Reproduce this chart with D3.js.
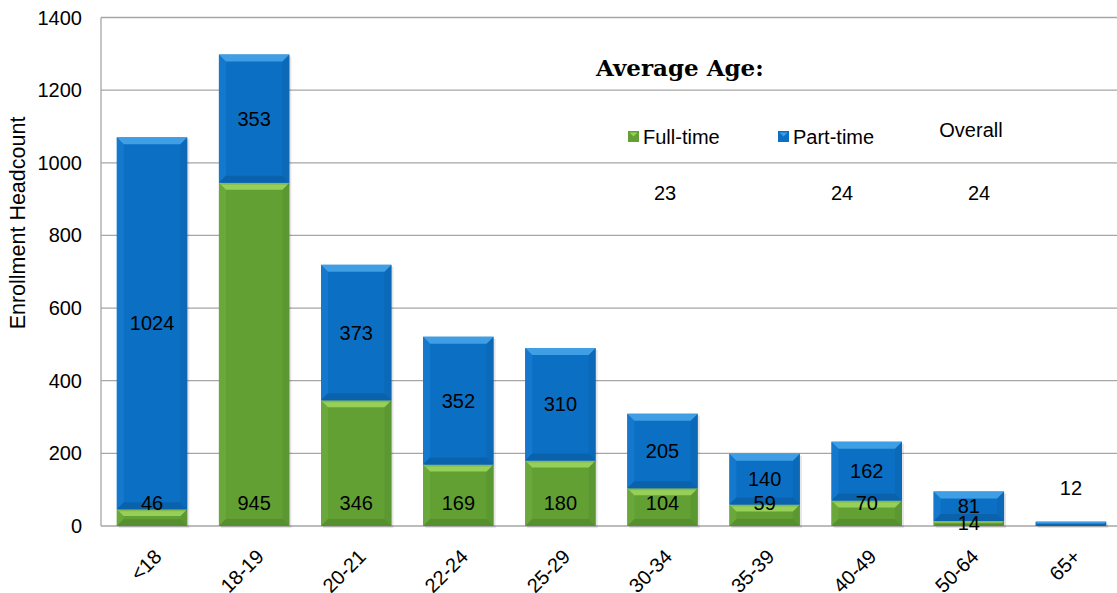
<!DOCTYPE html>
<html>
<head>
<meta charset="utf-8">
<script src="https://cdn.jsdelivr.net/npm/d3@7"></script>
<style>
  body { margin: 0; background: #fff; }
  svg { font-family: "Liberation Sans", Arial, sans-serif; }
</style>
</head>
<body>
<svg width="1117" height="593"></svg>
<script>
var svg = d3.select("svg"),
  width = +svg.attr("width"),
  height = +svg.attr("height");

// data
var ageGroups = ["<18", "18-19", "20-21", "22-24", "25-29", "30-34", "35-39", "40-49", "50-64", "65+"];
var fullTime = [46, 945, 346, 169, 180, 104, 59, 70, 14, 0];
var partTime = [1024, 353, 373, 352, 310, 205, 140, 162, 81, 12];
var yTicks = [0, 200, 400, 600, 800, 1000, 1200, 1400];
var avgAgeLabels = ["Full-time", "Part-time", "Overall"];
var avgAgeValues = [23, 24, 24];

var margin = {top: 17.5, left: 101};
var plotW = 1021,   // plot runs a little past the right edge, as in the original
  plotH = 526 - margin.top;

var x = d3.scaleBand().domain(ageGroups).range([0, plotW]).paddingInner(0.31).paddingOuter(0.155);
var y = d3.scaleLinear().domain([0, 1400]).range([plotH, 0]);

var g = svg.append("g").attr("transform", "translate(" + margin.left + "," + margin.top + ")");

// gridlines
g.selectAll("line.grid")
  .data(yTicks)
  .enter().append("line")
  .attr("class", "grid")
  .attr("x1", 0).attr("x2", plotW)
  .attr("y1", d => y(d)).attr("y2", d => y(d))
  .attr("stroke", "#a6a6a6").attr("stroke-width", 1.3);

g.append("line")
  .attr("x1", 0).attr("x2", 0).attr("y1", 0).attr("y2", plotH)
  .attr("stroke", "#a6a6a6").attr("stroke-width", 1.3);

g.selectAll("text.ytick")
  .data(yTicks)
  .enter().append("text")
  .attr("class", "ytick")
  .attr("x", -19).attr("y", d => y(d))
  .attr("dy", "0.35em")
  .attr("text-anchor", "end")
  .attr("font-size", 20).attr("fill", "#000")
  .text(d => d);

svg.append("text")
  .attr("transform", "translate(25,223) rotate(-90)")
  .attr("text-anchor", "middle")
  .attr("font-size", 21.5)
  .text("Enrollment Headcount");

// colours
var palettes = {
  ft: {main: "#62a034", light: "#96d058", dark: "#568f2e", side: "#6aa83b"},
  pt: {main: "#0b70c4", light: "#3f9ee4", dark: "#0b62ac", side: "#1479cc"}
};

var stack = ageGroups.map(function(c, i) {
  return {cat: c, ft: fullTime[i], pt: partTime[i]};
});

function drawSegment(sel, x0, w, y0, y1, p) {
  var h = y0 - y1;
  if (h <= 0) return;
  var b = Math.min(7, h / 2.5);
  sel.append("rect").attr("x", x0 + 2).attr("y", y1 + 2).attr("width", w).attr("height", h)
    .attr("fill", "#000").attr("opacity", 0.1);
  sel.append("rect").attr("x", x0).attr("y", y1).attr("width", w).attr("height", h).attr("fill", p.main);
  // sides
  sel.append("polygon").attr("points", [[x0, y1], [x0 + b, y1 + b], [x0 + b, y0 - b], [x0, y0]].join(" "))
    .attr("fill", p.side);
  sel.append("polygon").attr("points", [[x0 + w, y1], [x0 + w - b, y1 + b], [x0 + w - b, y0 - b], [x0 + w, y0]].join(" "))
    .attr("fill", p.dark).attr("opacity", 0.5);
  // bottom
  sel.append("polygon").attr("points", [[x0, y0], [x0 + b, y0 - b], [x0 + w - b, y0 - b], [x0 + w, y0]].join(" "))
    .attr("fill", p.dark);
  // top bevel
  sel.append("polygon").attr("points", [[x0, y1], [x0 + w, y1], [x0 + w - b, y1 + b], [x0 + b, y1 + b]].join(" "))
    .attr("fill", p.light);
}

var bars = g.selectAll("g.bar")
  .data(stack)
  .enter().append("g")
  .attr("class", "bar");

bars.each(function(d) {
  var sel = d3.select(this);
  var x0 = x(d.cat), w = x.bandwidth();
  drawSegment(sel, x0, w, y(0), y(d.ft), palettes.ft);
  drawSegment(sel, x0, w, y(d.ft), y(d.ft + d.pt), palettes.pt);
});

// value labels
bars.each(function(d) {
  var sel = d3.select(this);
  var cx = x(d.cat) + x.bandwidth() / 2;
  if (d.ft > 0) {
    var fy = d.ft < 30 ? (y(0) + y(d.ft)) / 2 : y(0) - 23;
    sel.append("text").attr("x", cx).attr("y", fy).attr("dy", "0.35em")
      .attr("text-anchor", "middle").attr("font-size", 20).text(d.ft);
  }
  var segH = y(d.ft) - y(d.ft + d.pt);
  var py = segH < 10 ? y(d.ft + d.pt) - 34 : (y(d.ft) + y(d.ft + d.pt)) / 2;
  sel.append("text").attr("x", cx).attr("y", py).attr("dy", "0.35em")
    .attr("text-anchor", "middle").attr("font-size", 20).text(d.pt);
});

// x labels
g.selectAll("text.xlab")
  .data(ageGroups)
  .enter().append("text")
  .attr("class", "xlab")
  .attr("transform", d => "translate(" + (x(d) + x.bandwidth() / 2 + 1) + "," + (plotH + 22) + ") rotate(-45)")
  .attr("text-anchor", "end")
  .attr("dy", "0.7em")
  .attr("font-size", 20)
  .text(d => d);

// Average age block
svg.append("text")
  .attr("x", 596).attr("y", 76)
  .style("font-family", "'DejaVu Serif', 'Liberation Serif', serif")
  .attr("font-weight", "bold").attr("font-size", 23)
  .text("Average Age:");

var legX = [628, 778];
var legCol = [palettes.ft, palettes.pt];
[0, 1].forEach(function(i) {
  var lg = svg.append("g").attr("transform", "translate(" + legX[i] + ",131)");
  lg.append("rect").attr("x", 0).attr("y", 0).attr("width", 11).attr("height", 11).attr("fill", legCol[i].main);
  lg.append("polygon").attr("points", "1.5,1.5 9.5,1.5 5.5,5.5").attr("fill", legCol[i].light);
  lg.append("text").attr("x", 15).attr("y", 5.5).attr("dy", "0.35em").attr("font-size", 20).text(avgAgeLabels[i]);
});
svg.append("text").attr("x", 971).attr("y", 130).attr("dy", "0.35em")
  .attr("text-anchor", "middle").attr("font-size", 20).text(avgAgeLabels[2]);

var valX = [665, 842, 979];
avgAgeValues.forEach(function(v, i) {
  svg.append("text").attr("x", valX[i]).attr("y", 193).attr("dy", "0.35em")
    .attr("text-anchor", "middle").attr("font-size", 20).text(v);
});
</script>
</body>
</html>
